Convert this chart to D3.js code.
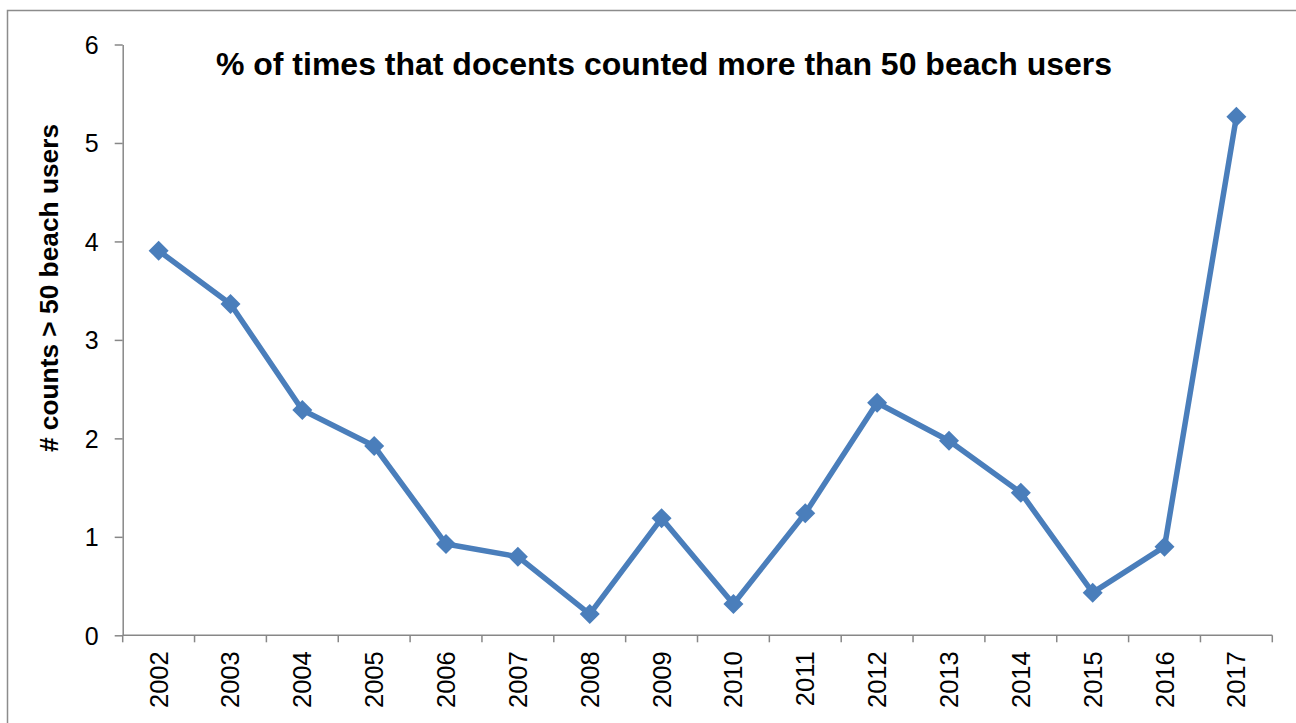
<!DOCTYPE html>
<html>
<head>
<meta charset="utf-8">
<script src="https://cdn.jsdelivr.net/npm/d3@7"></script>
<style>
  html, body { margin: 0; padding: 0; background: #fff; }
  svg { display: block; }
  text { font-family: "Liberation Sans", Arial, sans-serif; fill: #000; }
</style>
</head>
<body>
<svg id="chart" width="1296" height="723"></svg>
<script>
const years = ["2002","2003","2004","2005","2006","2007","2008","2009","2010","2011","2012","2013","2014","2015","2016","2017"];
const counts = [3.906, 3.365, 2.288, 1.922, 0.927, 0.798, 0.216, 1.188, 0.318, 1.239, 2.362, 1.976, 1.448, 0.433, 0.90, 5.267];
const yTicks = [0, 1, 2, 3, 4, 5, 6];
const titleText = "% of times that docents counted more than 50 beach users";
const yLabelText = "# counts > 50 beach users";

const svg = d3.select("#chart");
const W = 1296, H = 723;
const m = { left: 122.7, right: 1272.3, top: 44.5, bottom: 635.3 };
const axisColor = "#878787";
const lineColor = "#4A7EBB";

// outer border (extends beyond the canvas on right and bottom)
svg.append("rect")
  .attr("x", 7.5).attr("y", 10.5)
  .attr("width", W + 20).attr("height", H + 20)
  .attr("fill", "#fff").attr("stroke", "#8c8c8c").attr("stroke-width", 1.5);

const x = d3.scaleBand().domain(years).range([m.left, m.right]).padding(0);
const y = d3.scaleLinear().domain([0, 6]).range([m.bottom, m.top]);

// Y axis
const yAxis = svg.append("g")
  .attr("transform", `translate(${m.left},0)`)
  .call(d3.axisLeft(y).tickValues(yTicks).tickFormat(d3.format("d"))
    .tickSize(8).tickPadding(16).tickSizeOuter(0));
yAxis.select(".domain").attr("stroke", axisColor).attr("stroke-width", 1.5);
yAxis.selectAll(".tick line").attr("stroke", axisColor).attr("stroke-width", 1.5);
yAxis.selectAll(".tick text")
  .attr("font-size", 25).attr("font-family", "Liberation Sans, Arial, sans-serif")
  .attr("fill", "#000").attr("dy", "0.36em");

// X axis: ticks at band boundaries
const xg = svg.append("g").attr("transform", `translate(0,${m.bottom})`);
xg.append("line")
  .attr("x1", m.left).attr("x2", m.right).attr("y1", 0).attr("y2", 0)
  .attr("stroke", axisColor).attr("stroke-width", 1.5);
const boundaries = years.map(d => x(d)).concat([x(years[years.length - 1]) + x.bandwidth()]);
xg.selectAll("line.tk").data(boundaries).enter().append("line")
  .attr("class", "tk")
  .attr("x1", d => d).attr("x2", d => d).attr("y1", 0).attr("y2", 7)
  .attr("stroke", axisColor).attr("stroke-width", 1.5);
xg.selectAll("text.lbl").data(years).enter().append("text")
  .attr("class", "lbl")
  .attr("transform", d => `translate(${x(d) + x.bandwidth() / 2 + 9},16) rotate(-90)`)
  .attr("text-anchor", "end")
  .attr("font-size", 25.5)
  .text(d => d);

// Title
svg.append("text")
  .attr("x", 664).attr("y", 75)
  .attr("text-anchor", "middle")
  .attr("font-size", 32).attr("font-weight", "bold")
  .text(titleText);

// Y label
svg.append("text")
  .attr("transform", `translate(58,288) rotate(-90)`)
  .attr("text-anchor", "middle")
  .attr("font-size", 26.3).attr("font-weight", "bold")
  .text(yLabelText);

// Line
const data = years.map((yr, i) => ({ yr, v: counts[i] }));
const line = d3.line().x(d => x(d.yr) + x.bandwidth() / 2).y(d => y(d.v));
svg.append("path").datum(data)
  .attr("d", line)
  .attr("fill", "none").attr("stroke", lineColor)
  .attr("stroke-width", 5.5).attr("stroke-linejoin", "round");

// Diamond markers
const diamond = d3.symbol().type(d3.symbolSquare).size(200);
svg.selectAll("path.mk").data(data).enter().append("path")
  .attr("class", "mk")
  .attr("d", diamond)
  .attr("transform", d => `translate(${x(d.yr) + x.bandwidth() / 2},${y(d.v)}) rotate(45)`)
  .attr("fill", lineColor);
</script>
</body>
</html>
